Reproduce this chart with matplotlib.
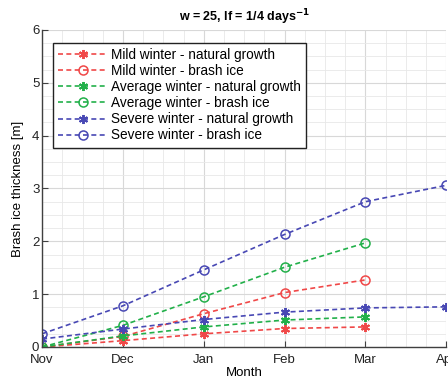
import matplotlib
matplotlib.use("Agg")
import matplotlib.pyplot as plt
from matplotlib.ticker import MultipleLocator

plt.rcParams['font.family'] = ['Liberation Sans', 'DejaVu Sans']

months = ["Nov", "Dec", "Jan", "Feb", "Mar", "Apr"]
mild_natural = [0.0, 0.12, 0.25, 0.35, 0.38]
mild_brash = [0.0, 0.20, 0.63, 1.03, 1.27]
avg_natural = [0.0, 0.21, 0.38, 0.51, 0.57]
avg_brash = [0.0, 0.41, 0.95, 1.51, 1.97]
sev_natural = [0.15, 0.34, 0.52, 0.66, 0.74, 0.76]
sev_brash = [0.25, 0.78, 1.46, 2.13, 2.75, 3.06]

series = [
    ("Mild winter - natural growth", mild_natural, "#f04848", "star"),
    ("Mild winter - brash ice", mild_brash, "#f04848", "circle"),
    ("Average winter - natural growth", avg_natural, "#22b04a", "star"),
    ("Average winter - brash ice", avg_brash, "#22b04a", "circle"),
    ("Severe winter - natural growth", sev_natural, "#4848b4", "star"),
    ("Severe winter - brash ice", sev_brash, "#4848b4", "circle"),
]

fig = plt.figure(figsize=(4.48, 3.83), dpi=100)
ax = fig.add_axes([0.094, 0.094, 0.902, 0.8277])

for label, vals, color, mk in series:
    x = list(range(len(vals)))
    if mk == "star":
        ax.plot(x, vals, linestyle=(0, (3, 2)), color=color, lw=1.2,
                marker=(6, 2, 0), markersize=6.5, markeredgewidth=1.4,
                label=label)
    else:
        ax.plot(x, vals, linestyle=(0, (3, 2)), color=color, lw=1.2,
                marker='o', markersize=6.5, markerfacecolor='none',
                markeredgewidth=1.1, label=label)

ax.set_xlim(0, 5)
ax.set_ylim(0, 6)
ax.set_xticks(range(len(months)))
ax.set_xticklabels(months)
ax.set_yticks(range(0, 7))
ax.xaxis.set_minor_locator(MultipleLocator(0.25))
ax.yaxis.set_minor_locator(MultipleLocator(0.25))
ax.grid(which='major', color='#d8d8d8', lw=0.8)
ax.grid(which='minor', color='#e8e8e8', lw=0.6)
ax.set_axisbelow(True)
for s in ['top', 'right']:
    ax.spines[s].set_visible(False)
for s in ['left', 'bottom']:
    ax.spines[s].set_color('#404040')
    ax.spines[s].set_linewidth(1.0)
ax.tick_params(which='major', direction='in', length=4, labelsize=9.5,
               colors='#404040', labelcolor='#222222')
ax.tick_params(which='minor', length=0)
ax.tick_params(axis='x', pad=5)
ax.tick_params(axis='y', pad=2)

ax.set_title(r"w = 25, lf = 1/4 days$^{\mathbf{-1}}$", fontsize=9,
             fontweight='bold', pad=6)
ax.set_xlabel("Month", fontsize=9.5, labelpad=1)
ax.set_ylabel("Brash ice thickness [m]", fontsize=9.5, labelpad=6)

leg = ax.legend(loc='upper left', bbox_to_anchor=(0.026, 0.96), fontsize=9.8,
                frameon=True, fancybox=False, edgecolor='#222222',
                framealpha=1, handlelength=3.6, handletextpad=0.3,
                labelspacing=0.15, borderpad=0.4, borderaxespad=0)
leg.get_frame().set_linewidth(1.0)

fig.savefig("out.png", dpi=100)
